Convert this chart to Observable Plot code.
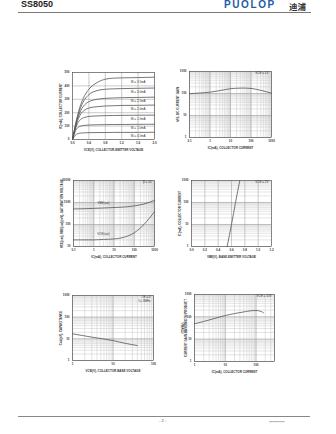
<!DOCTYPE html>
<html><head><meta charset="utf-8">
<script src="https://cdn.jsdelivr.net/npm/d3@7"></script>
<script src="https://cdn.jsdelivr.net/npm/@observablehq/plot@0.6"></script>
<style>
html,body{margin:0;padding:0;background:#fff;}
#page{position:relative;width:336px;height:434px;overflow:hidden;font-family:"Liberation Sans",Arial,sans-serif;}
.abs{position:absolute;white-space:nowrap;line-height:1;}
</style></head><body><div id="page">
<div class="abs" style="left:21px;top:0px;font-weight:bold;font-size:9px;color:#222">SS8050</div>
<div class="abs" style="left:224px;top:0px;font-weight:bold;font-size:10px;color:#1f5aa6;letter-spacing:1.6px">PUOLOP</div>
<div class="abs" style="left:289px;top:1px;font-weight:bold;font-size:8.5px;line-height:1.2;color:#333;font-family:'Noto Sans CJK SC'">迪浦</div>
<div class="abs" style="left:18px;top:12px;width:293px;height:1px;background:#777"></div>
<div class="abs" style="left:18px;top:416px;width:292px;height:1px;background:#888"></div>
<div class="abs" style="left:159px;top:419px;font-size:4px;color:#444">- 2 -</div>
<div class="abs" style="left:269px;top:421px;font-size:4px;color:#444">**********</div>
</div>
<script>
// ---- Panel 1: static characteristic ----
const vce = [0, 0.1, 0.2, 0.3, 0.4, 0.6, 0.8, 1.0, 1.2, 1.6, 2.0];
const ibLabels = ["IB = 3.5mA", "IB = 3.0mA", "IB = 2.5mA", "IB = 2.0mA", "IB = 1.5mA", "IB = 1.0mA", "IB = 0.5mA"];
const icCurves = [
  [0, 150, 260, 330, 375, 425, 450, 458, 460, 462, 465],
  [0, 140, 240, 300, 335, 365, 375, 378, 380, 382, 384],
  [0, 130, 215, 260, 282, 300, 307, 310, 312, 314, 316],
  [0, 120, 190, 220, 235, 245, 250, 252, 254, 255, 257],
  [0, 105, 150, 165, 172, 176, 178, 179, 180, 181, 182],
  [0, 80, 100, 106, 108, 110, 111, 112, 112, 113, 114],
  [0, 40, 48, 50, 51, 52, 52, 53, 53, 53, 54]
];
const p1XTicks = [0, 0.4, 0.8, 1.2, 1.6, 2.0];
const p1YTicks = [0, 100, 200, 300, 400, 500];

// ---- Panel 2: DC current gain ----
const ic2 = [0.1, 0.3, 1, 3, 10, 30, 50, 100, 300, 1000];
const hfe = [98, 105, 115, 135, 165, 175, 176, 170, 140, 103];

// ---- Panel 3: saturation voltage ----
const ic3 = [0.1, 0.3, 1, 3, 10, 30, 100, 300, 1000];
const vbeSat = [510, 520, 540, 560, 590, 620, 700, 850, 1250];
const vceSat = [20, 20, 20, 21, 22, 26, 42, 100, 380];

// ---- Panel 4: IC vs VBE ----
const vbe4 = [0.535, 0.6, 0.66, 0.725];
const ic4 = [1, 10, 100, 1000];
const p4XTicks = [0, 0.2, 0.4, 0.6, 0.8, 1.0, 1.2];

// ---- Panel 5: capacitance ----
const vcb5 = [1, 3, 10, 20, 40];
const cob5 = [17, 12, 8.3, 6.2, 4.9];

// ---- Panel 6: fT ----
const ic6 = [1, 2, 5, 10, 20, 50, 70, 100, 150, 175];
const ft6 = [49, 62, 88, 115, 140, 175, 188, 192, 172, 152];

function logGrid(lo, hi) {
  const out = [];
  for (let e = Math.floor(Math.log10(lo)) - 1; e <= Math.ceil(Math.log10(hi)); e++)
    for (let m = 1; m < 10; m++) {
      const v = +(m * Math.pow(10, e)).toPrecision(3);
      if (v >= lo * 0.999 && v <= hi * 1.001) out.push(v);
    }
  return out;
}
const fmt = d => String(d);
const page = document.getElementById("page");
const LINE = {stroke: "#555", strokeWidth: 0.8, curve: "monotone-x"};

function panel(cfg) {
  const ml = 26, mr = 6, mt = 4, mb = 20;
  const svg = Plot.plot({
    width: cfg.w + ml + mr, height: cfg.h + mt + mb,
    marginLeft: ml, marginRight: mr, marginTop: mt, marginBottom: mb,
    style: {fontSize: "3px", fontFamily: "Liberation Sans, Arial, sans-serif", background: "transparent", color: "#333", overflow: "visible"},
    x: cfg.x, y: cfg.y,
    marks: [
      Plot.gridX(cfg.xgrid, {stroke: "#bbb", strokeOpacity: 1, strokeWidth: 0.4}),
      Plot.gridY(cfg.ygrid, {stroke: "#bbb", strokeOpacity: 1, strokeWidth: 0.4}),
      Plot.gridX(cfg.xticks, {stroke: "#999", strokeOpacity: 1, strokeWidth: 0.5}),
      Plot.gridY(cfg.yticks, {stroke: "#999", strokeOpacity: 1, strokeWidth: 0.5}),
      Plot.frame({stroke: "#555", strokeWidth: 0.6}),
      Plot.axisX(cfg.xticks, {tickSize: 0, tickPadding: 2.5, tickFormat: cfg.xfmt || fmt, label: cfg.xlabel, labelAnchor: "center", labelOffset: 11, labelArrow: "none", fontWeight: "bold", fill: "#333"}),
      Plot.axisY(cfg.yticks, {tickSize: 0, tickPadding: 3, tickFormat: cfg.yfmt || fmt, label: cfg.ylabel, labelAnchor: "center", labelOffset: 13, labelArrow: "none", fontWeight: "bold", fill: "#333"}),
      ...cfg.marks
    ]
  });
  svg.style.position = "absolute";
  svg.style.left = (cfg.left - ml) + "px";
  svg.style.top = (cfg.top - mt) + "px";
  page.appendChild(svg);
}

function legend(lines) {
  return Plot.text(lines, {text: d => d, frameAnchor: "top-right", dx: -3, dy: 0, lineHeight: 1.2,
    fill: "#333", fontSize: 3});
}

// Panel 1
const p1rows = icCurves.flatMap((c, k) => c.map((v, i) => ({x: vce[i], y: v, k})));
panel({
  left: 72, top: 72, w: 82, h: 67,
  x: {domain: [0, 2.0]}, y: {domain: [0, 500]},
  xticks: p1XTicks, yticks: p1YTicks, xgrid: [], ygrid: [],
  xfmt: d3.format(".1f"),
  xlabel: "VCE(V), COLLECTOR-EMITTER VOLTAGE", ylabel: "IC(mA), COLLECTOR CURRENT",
  marks: [
    Plot.line(p1rows, {x: "x", y: "y", z: "k", ...LINE}),
    Plot.text(icCurves.map((c, k) => ({x: vce[9], y: c[9], t: ibLabels[k]})), {x: "x", y: "y", text: "t", dy: 4, fill: "#333", fontSize: 3})
  ]
});

// Panel 2
panel({
  left: 189, top: 71, w: 82, h: 66,
  x: {type: "log", domain: [0.1, 1000]}, y: {type: "log", domain: [1, 1000]},
  xticks: [0.1, 1, 10, 100, 1000], yticks: [1, 10, 100, 1000],
  xgrid: logGrid(0.1, 1000), ygrid: logGrid(1, 1000),
  xlabel: "IC(mA), COLLECTOR CURRENT", ylabel: "hFE, DC CURRENT GAIN",
  marks: [
    Plot.line(ic2.map((v, i) => ({x: v, y: hfe[i]})), {x: "x", y: "y", ...LINE}),
    legend(["VCE = 1V"])
  ]
});

// Panel 3
panel({
  left: 73, top: 180, w: 81, h: 66,
  x: {type: "log", domain: [0.1, 1000]}, y: {type: "log", domain: [10, 10000]},
  xticks: [0.1, 1, 10, 100, 1000], yticks: [10, 100, 1000, 10000],
  xgrid: logGrid(0.1, 1000), ygrid: logGrid(10, 10000),
  xlabel: "IC(mA), COLLECTOR CURRENT", ylabel: "VCE(sat), VBE(sat)(mV), SATURATION VOLTAGE",
  marks: [
    Plot.line(ic3.map((v, i) => ({x: v, y: vbeSat[i]})), {x: "x", y: "y", ...LINE}),
    Plot.line(ic3.map((v, i) => ({x: v, y: vceSat[i]})), {x: "x", y: "y", ...LINE}),
    Plot.text([{x: ic3[3], y: vbeSat[3], t: "VBE(sat)"}, {x: ic3[3], y: vceSat[3], t: "VCE(sat)"}], {x: "x", y: "y", text: "t", dy: -5, fill: "#333", fontSize: 3}),
    legend(["β = 10"])
  ]
});

// Panel 4
panel({
  left: 191, top: 180, w: 80, h: 66,
  x: {domain: [0, 1.2]}, y: {type: "log", domain: [1, 1000]},
  xticks: p4XTicks, yticks: [1, 10, 100, 1000],
  xgrid: [], ygrid: logGrid(1, 1000),
  xfmt: d3.format(".1f"),
  xlabel: "VBE(V), BASE-EMITTER VOLTAGE", ylabel: "IC(mA), COLLECTOR CURRENT",
  marks: [
    Plot.line(vbe4.map((v, i) => ({x: v, y: ic4[i]})), {x: "x", y: "y", ...LINE}),
    legend(["VCE = 1V"])
  ]
});

// Panel 5
panel({
  left: 72, top: 295, w: 81, h: 65,
  x: {type: "log", domain: [1, 100]}, y: {type: "log", domain: [1, 1000]},
  xticks: [1, 10, 100], yticks: [1, 10, 100, 1000],
  xgrid: logGrid(1, 100), ygrid: logGrid(1, 1000),
  xlabel: "VCB(V), COLLECTOR-BASE VOLTAGE", ylabel: "Cob(pF), CAPACITANCE",
  marks: [
    Plot.line(vcb5.map((v, i) => ({x: v, y: cob5[i]})), {x: "x", y: "y", ...LINE}),
    legend(["IE = 0\nf = 1MHz"])
  ]
});

// Panel 6
panel({
  left: 194, top: 294, w: 80, h: 67,
  x: {type: "log", domain: [1, 400]}, y: {type: "log", domain: [1, 1000]},
  xticks: [1, 10, 100, 400], yticks: [1, 10, 100, 1000],
  xgrid: logGrid(1, 400), ygrid: logGrid(1, 1000),
  xlabel: "IC(mA), COLLECTOR CURRENT", ylabel: "fT(MHz)\nCURRENT GAIN-BANDWIDTH PRODUCT",
  marks: [
    Plot.line(ic6.map((v, i) => ({x: v, y: ft6[i]})), {x: "x", y: "y", ...LINE}),
    legend(["VCE = 10V"])
  ]
});
</script>
</body></html>
